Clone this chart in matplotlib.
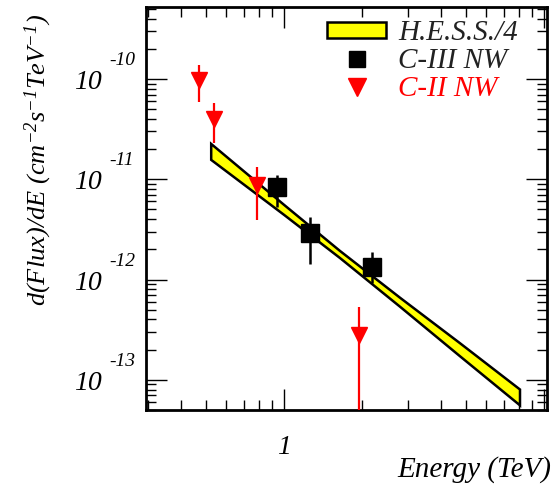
import matplotlib
matplotlib.use('Agg')
import matplotlib.pyplot as plt
from matplotlib.lines import Line2D
from matplotlib.ticker import FixedLocator, FixedFormatter, NullFormatter

plt.rcParams['font.family'] = 'Liberation Serif'
plt.rcParams['font.style'] = 'italic'
plt.rcParams['mathtext.fontset'] = 'custom'
plt.rcParams['mathtext.it'] = 'Liberation Serif:italic'
plt.rcParams['mathtext.rm'] = 'Liberation Serif:italic'
plt.rcParams['mathtext.default'] = 'it'

# H.E.S.S./4 band (E in TeV, flux in cm-2 s-1 TeV-1)
hess_e = [0.524, 1.0, 1.64, 2.79, 4.75, 8.09]
hess_hi = [2.25e-11, 5.55e-12, 1.93e-12, 6.6e-13, 2.32e-13, 8.0e-14]
hess_lo = [1.56e-11, 4.41e-12, 1.64e-12, 5.37e-13, 1.72e-13, 5.56e-14]

# C-III NW
c3_e = [0.94, 1.259, 2.18]
c3_f = [8.38e-12, 2.92e-12, 1.34e-12]
c3_hi = [1.10e-11, 4.21e-12, 1.88e-12]
c3_lo = [5.3e-12, 1.43e-12, 9.25e-13]

# C-II NW
c2_e = [0.471, 0.538, 0.787, 1.943]
c2_f = [9.66e-11, 4.03e-11, 8.67e-12, 2.81e-13]
c2_hi = [1.38e-10, 5.77e-11, 1.33e-11, 5.33e-13]
c2_lo = [5.9e-11, 2.30e-11, 3.93e-12, 1e-14]

fig = plt.figure(figsize=(5.53, 4.9), dpi=100)
ax = fig.add_axes([0.264, 0.1633, 0.725, 0.8224])
ax.set_xscale('log')
ax.set_yscale('log')

# band
px = hess_e + hess_e[::-1]
py = hess_hi + hess_lo[::-1]
band = ax.fill(px, py, facecolor='#ffff00', edgecolor='black', lw=1.8, zorder=2)[0]

# points
c2_err = [[f - l for f, l in zip(c2_f, c2_lo)], [h - f for f, h in zip(c2_f, c2_hi)]]
c3_err = [[f - l for f, l in zip(c3_f, c3_lo)], [h - f for f, h in zip(c3_f, c3_hi)]]
ax.errorbar(c2_e, c2_f, yerr=c2_err, fmt='v', color='red', ms=12,
            elinewidth=1.6, capsize=0, zorder=3)
ax.errorbar(c3_e, c3_f, yerr=c3_err, fmt='s', color='black', ms=13.5,
            elinewidth=1.8, capsize=0, zorder=4)

ax.set_xlim(0.294, 10.27)
ax.set_ylim(5.0e-14, 5.22e-10)

# ticks
ax.xaxis.set_major_locator(FixedLocator([1, 10]))
ax.xaxis.set_major_formatter(FixedFormatter(['1', '']))
ax.xaxis.set_minor_locator(FixedLocator([0.3, 0.4, 0.5, 0.6, 0.7, 0.8, 0.9,
                                         2, 3, 4, 5, 6, 7, 8, 9]))
ax.xaxis.set_minor_formatter(NullFormatter())
ydec = [-13, -12, -11, -10]
ax.yaxis.set_major_locator(FixedLocator([10.0 ** e for e in ydec]))
ax.yaxis.set_major_formatter(NullFormatter())
ax.yaxis.set_minor_locator(FixedLocator([k * 10.0 ** e for e in range(-14, -9)
                                         for k in range(2, 10)]))
ax.yaxis.set_minor_formatter(NullFormatter())
ax.tick_params(which='both', direction='in', top=True, right=True, width=1.0)
ax.tick_params(which='major', length=15, labelsize=20, pad=18)
ax.tick_params(which='minor', length=7.5)
for s in ax.spines.values():
    s.set_linewidth(2)

# y tick labels like ROOT
for e in ydec:
    ax.annotate('10', xy=(0, 10.0 ** e), xycoords=('axes fraction', 'data'),
                xytext=(-31.7, -7.2), textcoords='offset points',
                ha='right', va='baseline', fontsize=20)
    ax.annotate('%d' % e, xy=(0, 10.0 ** e), xycoords=('axes fraction', 'data'),
                xytext=(-26.6, 10), textcoords='offset points',
                ha='left', va='baseline', fontsize=14)

xl = ax.set_xlabel('Energy (TeV)', fontsize=21)
ax.xaxis.set_label_coords(1.01, -0.149)
xl.set_ha('right')
xl.set_va('center')
yl = ax.set_ylabel('d(Flux)/dE (cm$^{-2}$s$^{-1}$TeV$^{-1}$)', fontsize=19)
ax.yaxis.set_label_coords(-0.269, 0.62)
yl.set_va('center')

handles = [band,
           Line2D([], [], marker='s', color='black', ls='none', ms=12),
           Line2D([], [], marker='v', color='red', ls='none', ms=12.5)]
leg = ax.legend(handles, ['H.E.S.S./4', 'C-III NW', 'C-II NW'],
                loc='upper right', bbox_to_anchor=(0.928, 0.967),
                frameon=False, fontsize=21, handlelength=2.02, handleheight=0.48,
                handletextpad=0.41, labelspacing=0.07, borderaxespad=0,
                borderpad=0)
for t, c in zip(leg.get_texts(), ['#222222', '#222222', 'red']):
    t.set_color(c)

fig.savefig('out.png', dpi=100)
